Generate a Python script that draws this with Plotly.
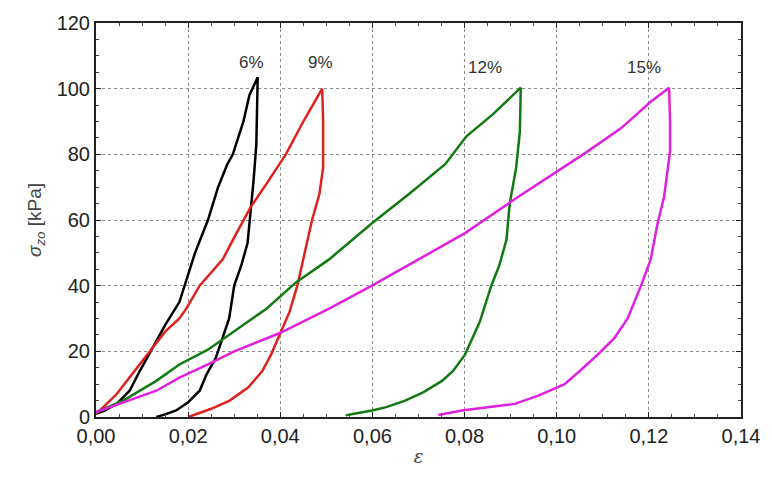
import plotly.graph_objects as go

# Strain (epsilon) and stress sigma_zo [kPa] for each cycle, loading then unloading
eps_6 = [0, 0.002, 0.0045, 0.0073, 0.0095, 0.0117, 0.0150, 0.0181, 0.0192, 0.0215, 0.0243, 0.0265, 0.0285, 0.0297, 0.0320, 0.0333, 0.0351,
         0.0350, 0.0348, 0.0342, 0.0336, 0.0329, 0.0315, 0.0300, 0.0289, 0.0268, 0.0260, 0.0240, 0.0225, 0.0200, 0.0174, 0.0150, 0.0131]
sig_6 = [1, 2, 4, 8, 14, 19.6, 28, 35, 40, 50, 60, 70, 77, 80, 90, 98, 103.5,
         95, 83, 72, 63, 53, 46, 40, 30, 21, 18, 13, 8, 4.5, 2, 0.8, 0]

eps_9 = [0, 0.0016, 0.0045, 0.0073, 0.0117, 0.0150, 0.0181, 0.0196, 0.0225, 0.0250, 0.0275, 0.0305, 0.0336, 0.0370, 0.0412, 0.0450, 0.0491,
         0.0493, 0.0493, 0.0485, 0.0469, 0.0453, 0.0437, 0.0420, 0.0398, 0.0380, 0.0361, 0.0330, 0.0290, 0.0250, 0.0220, 0.0200]
sig_9 = [1, 3, 7, 12, 20, 26, 30, 33, 40, 44, 48, 56, 64, 71, 80, 90, 100,
         90, 76, 68, 60, 50, 40, 32, 25, 19, 14, 9, 5, 2.5, 1, 0]

eps_12 = [0, 0.0059, 0.0131, 0.0181, 0.0243, 0.0300, 0.0370, 0.0434, 0.0506, 0.0599, 0.0680, 0.0758, 0.0804, 0.0860, 0.0922,
          0.0920, 0.0912, 0.0898, 0.0891, 0.0875, 0.0858, 0.0833, 0.0801, 0.0775, 0.0751, 0.0710, 0.0671, 0.0630, 0.0599, 0.0560, 0.0542]
sig_12 = [1.5, 5, 11, 16, 20.5, 26, 33, 41, 48, 59, 68, 77, 85.5, 92, 100.3,
          87, 76, 65, 54, 46, 40, 29, 19, 14, 11, 7.5, 5, 3, 2, 1, 0.5]

eps_15 = [0, 0.0059, 0.0131, 0.0181, 0.0243, 0.0300, 0.0398, 0.0506, 0.0599, 0.0700, 0.0801, 0.0916, 0.1002, 0.1064, 0.1140, 0.1204, 0.1244,
          0.1246, 0.1246, 0.1233, 0.1219, 0.1204, 0.1183, 0.1154, 0.1125, 0.1089, 0.1050, 0.1017, 0.0960, 0.0909, 0.0850, 0.0794, 0.0743]
sig_15 = [1.5, 4.5, 8, 12, 16, 20, 25.5, 33, 40, 48, 56, 67, 75, 80.6, 88, 96, 100.3,
          90, 81, 67, 59, 48, 40, 30, 24, 19, 14, 10, 6.5, 4, 3, 2, 0.6]

labels = ["6%", "9%", "12%", "15%"]
label_x = [0.0338, 0.0487, 0.0844, 0.1190]
label_y = [108, 108, 106.5, 106.5]

series = [(eps_6, sig_6, "black"), (eps_9, sig_9, "#e0201c"),
          (eps_12, sig_12, "#137a13"), (eps_15, sig_15, "#e020e0")]

fig = go.Figure()
for (x, y, c), name in zip(series, labels):
    fig.add_trace(go.Scatter(x=x, y=y, mode="lines", name=name,
                             line=dict(color=c, width=2.5), showlegend=False))

for t, x, y in zip(labels, label_x, label_y):
    fig.add_annotation(x=x, y=y, text=t, showarrow=False,
                       font=dict(size=17, color="#333333"))

font = "Liberation Sans, Arial, sans-serif"
axis_common = dict(showline=True, linecolor="#222222", linewidth=2, mirror="ticks",
                   ticks="inside", ticklen=5, tickcolor="#222222",
                   showgrid=True, gridcolor="#8a8a8a", griddash="dot", gridwidth=1.2,
                   zeroline=False, tickfont=dict(size=20, color="#222222", family=font),
                   minor=dict(ticks="inside", ticklen=3, tickcolor="#444444", showgrid=False))

fig.update_xaxes(range=[0, 0.14], dtick=0.02, tickformat=".2f",
                 title=dict(text="<i>ε</i>", font=dict(size=18, color="#444444", family="DejaVu Serif"), standoff=4),
                 **axis_common)
fig.update_xaxes(minor_dtick=0.005)
fig.update_yaxes(range=[0, 120], dtick=20,
                 title=dict(text="<i>σ</i><sub><i>zo</i></sub> [kPa]", font=dict(size=19, color="#444444", family=font), standoff=10),
                 **axis_common)
fig.update_yaxes(minor_dtick=5)

fig.update_layout(width=772, height=490, separators=", ",
                  margin=dict(l=96, r=27, t=17, b=73),
                  plot_bgcolor="white", paper_bgcolor="white",
                  font=dict(family=font))

fig.write_html("out.html")
